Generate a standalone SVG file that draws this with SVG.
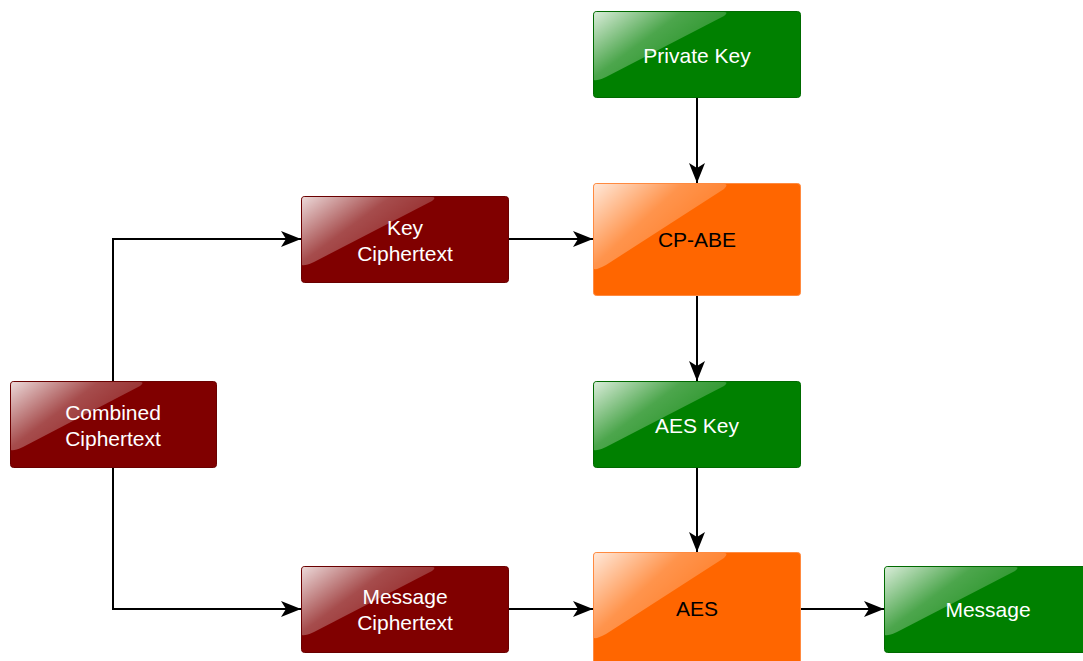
<svg xmlns="http://www.w3.org/2000/svg" width="1083" height="661" viewBox="0 0 1083 661">
  <defs>
    <linearGradient id="glass" x1="0" y1="0" x2="1" y2="0.7">
      <stop offset="0" stop-color="#fff" stop-opacity="0.85"/>
      <stop offset="0.45" stop-color="#fff" stop-opacity="0.3"/>
      <stop offset="1" stop-color="#fff" stop-opacity="0.1"/>
    </linearGradient>
    <marker id="arrow" viewBox="0 0 20 16" refX="20" refY="8" markerWidth="20" markerHeight="16" markerUnits="userSpaceOnUse" orient="auto">
      <path d="M20,8 L0,0 L5,8 L0,16 Z" fill="#000"/>
    </marker>
  </defs>
  <style>
    .red { fill: #800000; stroke: #6a0000; stroke-width: 1; }
    .green { fill: #008000; stroke: #006a00; stroke-width: 1; }
    .orange { fill: #ff6600; stroke: #ff8a40; stroke-width: 1; }
    .hl { fill: url(#glass); }
    .lbl { font-family: "Liberation Sans", Arial, sans-serif; font-size: 21px; text-anchor: middle; }
    .w { fill: #fff; }
    .k { fill: #000; }
    .edge { fill: none; stroke: #000; stroke-width: 2; marker-end: url(#arrow); }
  </style>

  <g id="connectors">
    <path class="edge" d="M113,381 V239 H301"/>
    <path class="edge" d="M113,467 V609 H301"/>
    <path class="edge" d="M509,239 H593"/>
    <path class="edge" d="M697,97 V183"/>
    <path class="edge" d="M697,295 V381"/>
    <path class="edge" d="M697,467 V552"/>
    <path class="edge" d="M509,609 H593"/>
    <path class="edge" d="M801,609 H884"/>
  </g>

  <g id="private-key">
    <rect class="green" x="593.5" y="11.5" width="207" height="86" rx="3"/>
    <path class="hl" d="M596,12 H724 Q729,12 724,16 L606,77 Q597,81 594,80 V15 Q594,12 596,12 Z"/>
    <text class="lbl w" x="697" y="63">Private Key</text>
  </g>

  <g id="cp-abe">
    <rect class="orange" x="593.5" y="183.5" width="207" height="112" rx="3"/>
    <path class="hl" d="M596,184 H724 Q729,184 724,189 L606,265 Q597,270 594,269 V187 Q594,184 596,184 Z"/>
    <text class="lbl k" x="697" y="247">CP-ABE</text>
  </g>

  <g id="aes-key">
    <rect class="green" x="593.5" y="381.5" width="207" height="86" rx="3"/>
    <path class="hl" d="M596,382 H724 Q729,382 724,386 L606,447 Q597,451 594,450 V385 Q594,382 596,382 Z"/>
    <text class="lbl w" x="697" y="433">AES Key</text>
  </g>

  <g id="aes">
    <rect class="orange" x="593.5" y="552.5" width="207" height="112" rx="3"/>
    <path class="hl" d="M596,553 H724 Q729,553 724,558 L606,634 Q597,639 594,638 V556 Q594,553 596,553 Z"/>
    <text class="lbl k" x="697" y="616">AES</text>
  </g>

  <g id="key-ciphertext">
    <rect class="red" x="301.5" y="196.5" width="207" height="86" rx="3"/>
    <path class="hl" d="M304,197 H432 Q437,197 432,201 L314,262 Q305,266 302,265 V200 Q302,197 304,197 Z"/>
    <text class="lbl w" x="405" y="235">Key</text>
    <text class="lbl w" x="405" y="261">Ciphertext</text>
  </g>

  <g id="combined-ciphertext">
    <rect class="red" x="10.5" y="381.5" width="206" height="86" rx="3"/>
    <path class="hl" d="M13,382 H140 Q145,382 140,386 L23,447 Q14,451 11,450 V385 Q11,382 13,382 Z"/>
    <text class="lbl w" x="113" y="420">Combined</text>
    <text class="lbl w" x="113" y="446">Ciphertext</text>
  </g>

  <g id="message-ciphertext">
    <rect class="red" x="301.5" y="566.5" width="207" height="86" rx="3"/>
    <path class="hl" d="M304,567 H432 Q437,567 432,571 L314,632 Q305,636 302,635 V570 Q302,567 304,567 Z"/>
    <text class="lbl w" x="405" y="604">Message</text>
    <text class="lbl w" x="405" y="630">Ciphertext</text>
  </g>

  <g id="message">
    <rect class="green" x="884.5" y="566.5" width="207" height="86" rx="3"/>
    <path class="hl" d="M887,567 H1015 Q1020,567 1015,571 L897,632 Q888,636 885,635 V570 Q885,567 887,567 Z"/>
    <text class="lbl w" x="988" y="617">Message</text>
  </g>
</svg>
